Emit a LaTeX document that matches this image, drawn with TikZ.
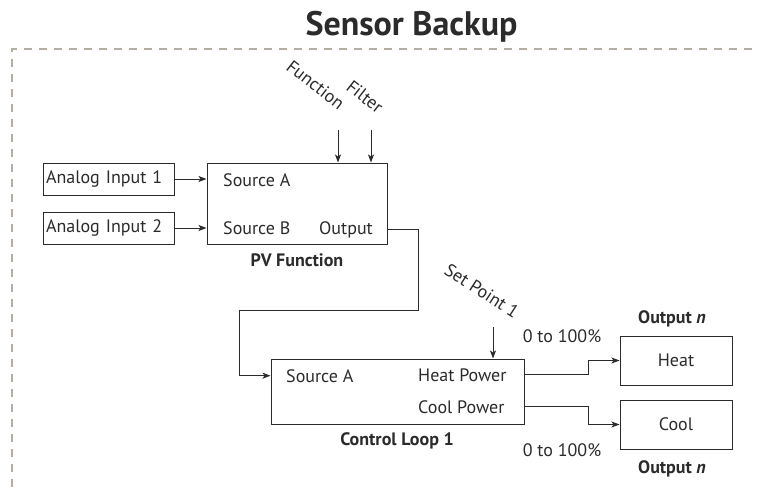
\documentclass[tikz,border=0pt]{standalone}
\usepackage{fontspec}
\setmainfont{PT Sans}
\usetikzlibrary{arrows.meta,calc}

\definecolor{ink}{HTML}{2B2B2B}
\definecolor{framegray}{HTML}{B3ADA4}

\begin{document}
\begin{tikzpicture}[
    x=1pt, y=-1pt,
    font=\fontsize{18}{21}\selectfont,
    text=ink,
    >={Stealth[length=8pt,width=6pt,inset=2pt]},
    blk/.style={draw=ink, line width=1pt, fill=white},
    inbox/.style={blk, minimum width=131pt, minimum height=32pt, text width=125pt,
                  inner xsep=3pt, align=left},
    outbox/.style={blk, minimum width=112pt, minimum height=49pt},
    lbl/.style={inner sep=0pt, anchor=base west},
    tag/.style={inner sep=0pt, anchor=base, font=\fontsize{18}{21}\selectfont\bfseries},
    rot/.style={lbl, rotate=-38},
    flow/.style={->, draw=ink, line width=1pt},
    border/.style={draw=framegray, line width=2pt, dash pattern=on 8pt off 7pt},
]
\useasboundingbox (0,0) rectangle (759,487);

% ---- Title + frame ------------------------------------------------
\node[tag, font=\fontsize{34}{40}\selectfont\bfseries] (head) at (411.5,36) {Sensor Backup};
\draw[border] (12,487) -- (12,49) -- (759,49);

% ---- Inputs -------------------------------------------------------
\node[inbox] (ain1) at (108.5,179) {Analog Input 1};
\node[inbox] (ain2) at (108.5,228) {Analog Input 2};

% ---- PV Function --------------------------------------------------
\node[blk, minimum width=180pt, minimum height=81pt] (pv) at (297,203.5) {};
\node[lbl] (pvsrca) at (223,186) {Source A};
\node[lbl] (pvsrcb) at (223,234) {Source B};
\node[lbl, anchor=base east] (pvout) at (373,234) {Output};
\node[tag] (pvname) at (297,266) {PV Function};

\coordinate (fnin) at (338,130);
\coordinate (flin) at (371,130);
\node[rot] (fnlbl) at (285,69) {Function};
\node[rot] (fllbl) at (345,89) {Filter};

% ---- Control Loop -------------------------------------------------
\node[blk, minimum width=253pt, minimum height=65pt] (cl) at (397.5,391.5) {};
\node[lbl] (clsrca) at (286,382) {Source A};
\node[lbl] (clheat) at (418,381) {Heat Power};
\node[lbl] (clcool) at (418,413) {Cool Power};
\node[tag] (clname) at (397,445) {Control Loop 1};

\coordinate (spin) at (493,327);
\node[rot, rotate=5] (splbl) at (443,273) {Set Point 1};

% ---- Outputs ------------------------------------------------------
\node[outbox] (heat) at (676,360.5) {Heat};
\node[outbox] (cool) at (676,424.5) {Cool};
\node[tag] (heattag) at (672,323) {Output \textit{n}};
\node[tag] (cooltag) at (672,473) {Output \textit{n}};
\node[inner sep=0pt, anchor=base] (heatrng) at (562,342) {0 to 100\%};
\node[inner sep=0pt, anchor=base] (coolrng) at (562,456) {0 to 100\%};

% ---- Edges --------------------------------------------------------
\draw[flow] (ain1) -- (ain1 -| pv.west);
\draw[flow] (ain2) -- (ain2 -| pv.west);
\draw[flow] (fnin) -- (fnin |- pv.north);
\draw[flow] (flin) -- (flin |- pv.north);

\coordinate (fb1) at (418,310);
\coordinate (fb2) at (239,310);
\draw[flow] (pvout -| pv.east) -| (fb1) -- (fb2) |- (clsrca -| cl.west);
\draw[flow] (spin) -- (spin |- cl.north);

\draw[flow] (clheat -| cl.east) -- ++(64,0) |- (heat.west);
\draw[flow] (clcool -| cl.east) -- ++(64,0) |- (cool.west);

\end{tikzpicture}
\end{document}
